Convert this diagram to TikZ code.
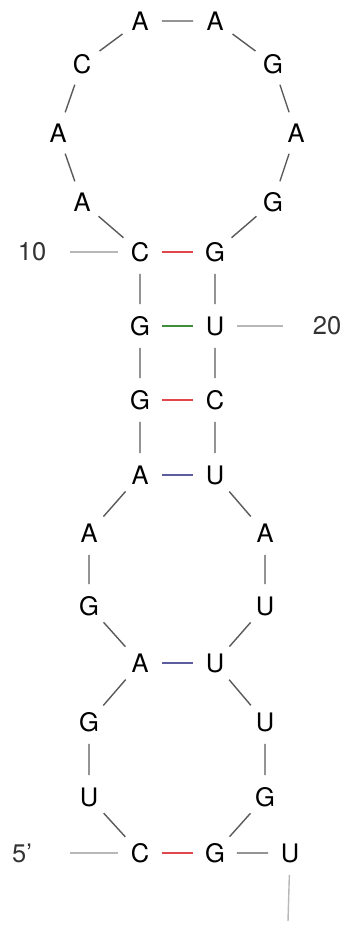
\documentclass[tikz,border=0pt]{standalone}
\usepackage{fontspec}
\setmainfont{TeX Gyre Heros}
\usepackage{xcolor}
\usepackage{tikz}
\usetikzlibrary{positioning}
\definecolor{rnagray}{HTML}{5A5A5A}
\definecolor{rnalight}{HTML}{B8B8B8}
\definecolor{rnatext}{HTML}{333333}
\definecolor{rnared}{HTML}{E0464B}
\definecolor{rnagreen}{HTML}{3E8E3E}
\definecolor{rnablue}{HTML}{5C5C9E}

\begin{document}
\begin{tikzpicture}[
    x=0.2mm, y=-0.2mm,
    node distance=15mm, on grid,
    nt/.style={
      circle, inner sep=0pt, minimum size=8.6mm,
      font=\fontsize{14.5}{16}\selectfont
    },
    numlabel/.style={inner sep=0pt, text=rnatext, font=\fontsize{14.5}{16}\selectfont},
    bb/.style={rnagray, line width=0.8pt},
    numline/.style={rnalight, line width=0.8pt},
    gcpair/.style={rnared, line width=0.9pt},
    gupair/.style={rnagreen, line width=0.9pt},
    aupair/.style={rnablue, line width=0.9pt},
  ]
  \useasboundingbox (0,0) rectangle (348,932);

  % 5' side
  \node[nt] (n1) at (140,853) {C};
  \node[nt] (n2) at (89,797) {U};
  \node[nt] (n3) at (89,722) {G};
  \node[nt] (n4) at (140,663) {A};
  \node[nt] (n5) at (89,606) {G};
  \node[nt] (n6) at (89,533) {A};
  \node[nt] (n7) at (140,475) {A};
  \node[nt] (n8) at (140,400) {G};
  \node[nt] (n9) at (140,326) {G};
  \node[nt] (n10) at (140,252) {C};
  % hairpin loop
  \node[nt] (n11) at (82,202) {A};
  \node[nt] (n12) at (58,133) {A};
  \node[nt] (n13) at (82,64) {C};
  \node[nt] (n14) at (140,21) {A};
  \node[nt, right=of n14] (n15) {A};
  \node[nt] (n16) at (273,64) {G};
  \node[nt] (n17) at (296,133) {A};
  \node[nt] (n18) at (273,202) {G};
  % 3' side
  \node[nt, right=of n10] (n19) {G};
  \node[nt, right=of n9] (n20) {U};
  \node[nt, right=of n8] (n21) {C};
  \node[nt, right=of n7] (n22) {U};
  \node[nt] (n23) at (265,533) {A};
  \node[nt] (n24) at (265,606) {U};
  \node[nt, right=of n4] (n25) {U};
  \node[nt] (n26) at (265,722) {U};
  \node[nt] (n27) at (265,797) {G};
  \node[nt, right=of n1] (n28) {G};
  \node[nt, right=of n28] (n29) {U};

  % numbering
  \node[numlabel] (lab5) at (22,853) {5’};
  \node[numlabel] (lab10) at (32,252) {10};
  \node[numlabel] (lab20) at (327,326) {20};
  \coordinate (t5) at (70,853);
  \coordinate (t10) at (70,252);
  \coordinate (t20) at (283,326);
  \coordinate (t3) at (288,921);

  \draw[numline] (t5) -- (n1);
  \draw[numline] (t10) -- (n10);
  \draw[numline] (n20) -- (t20);
  \draw[numline] (n29) -- (t3);

  % backbone
  \draw[bb] (n1) -- (n2) -- (n3) -- (n4) -- (n5) -- (n6) -- (n7) -- (n8)
    -- (n9) -- (n10) -- (n11) -- (n12) -- (n13) -- (n14) -- (n15);
  \draw[bb] (n15) -- (n16) -- (n17) -- (n18) -- (n19) -- (n20) -- (n21)
    -- (n22) -- (n23) -- (n24) -- (n25) -- (n26) -- (n27) -- (n28) -- (n29);

  % base pairs
  \draw[gcpair] (n1) -- (n28);
  \draw[aupair] (n4) -- (n25);
  \draw[aupair] (n7) -- (n22);
  \draw[gcpair] (n8) -- (n21);
  \draw[gupair] (n9) -- (n20);
  \draw[gcpair] (n10) -- (n19);
\end{tikzpicture}
\end{document}
